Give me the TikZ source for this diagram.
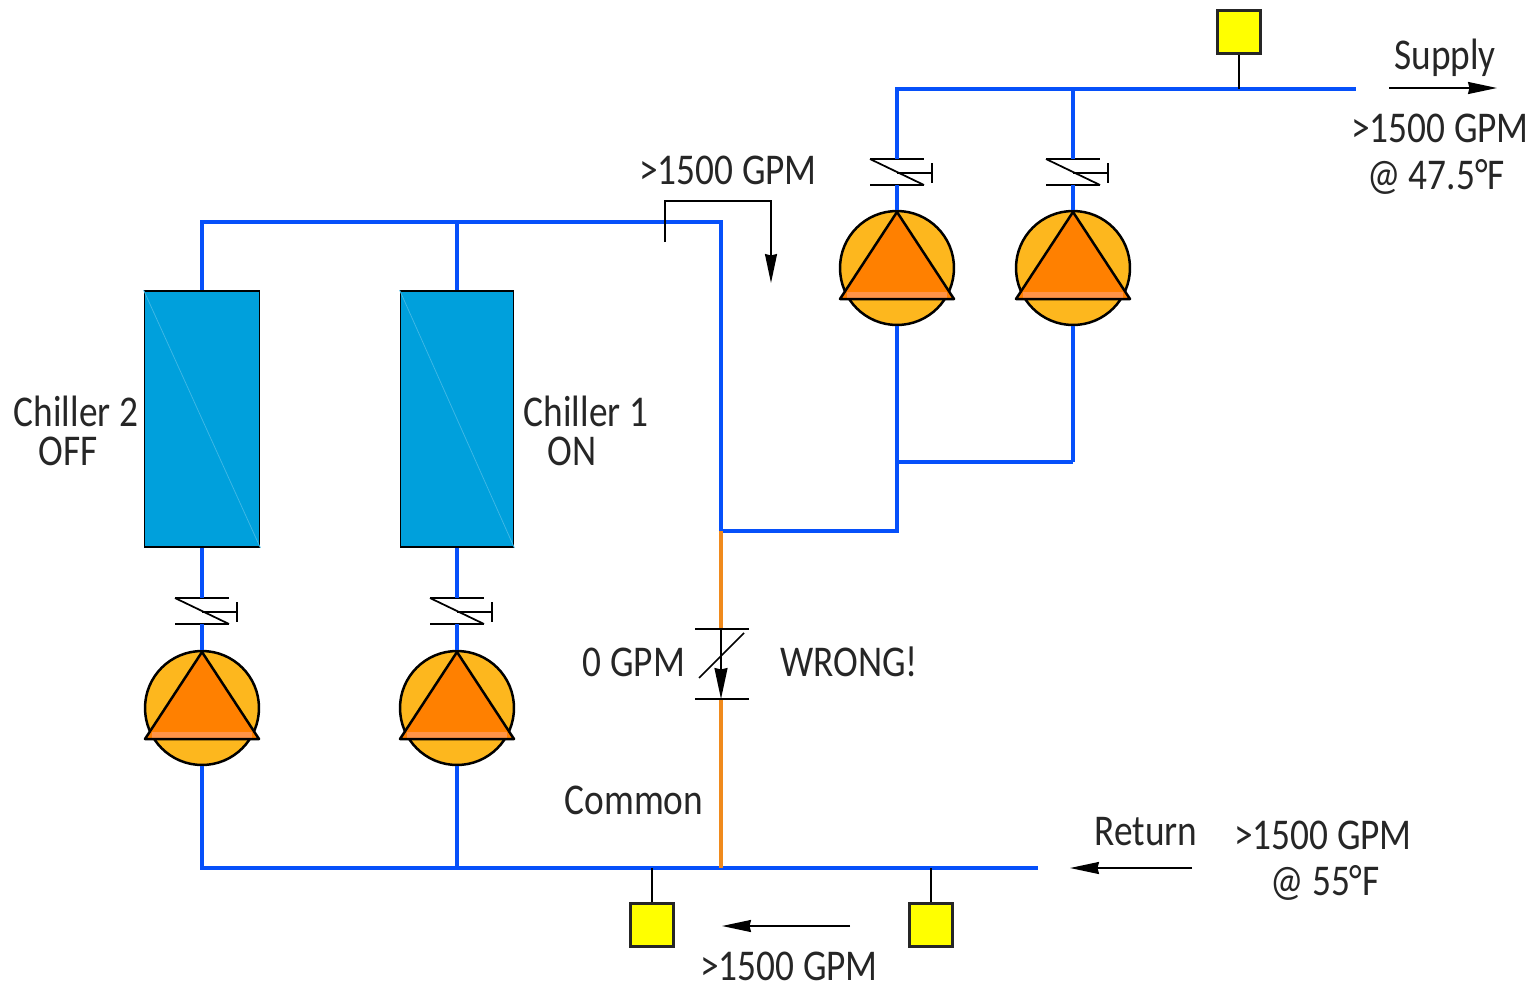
\documentclass[tikz,border=0pt]{standalone}
\usepackage{fontspec}
\setmainfont[FakeStretch=0.85]{Carlito}
\usetikzlibrary{arrows.meta}
\definecolor{pipeblue}{HTML}{0650FA}
\definecolor{commonorange}{HTML}{F08A1C}
\definecolor{chillerblue}{HTML}{00A0DC}
\definecolor{pumpyellow}{HTML}{FDB71E}
\definecolor{pumporange}{HTML}{FF8000}
\definecolor{bandorange}{HTML}{FF9448}
\definecolor{sensoryellow}{HTML}{FFFF00}

% pump: name, x, y of centre
\def\pumpsym#1#2#3{
    \node[pump] (#1) at (#2,#3) {};
    \fill[pumporange] (#2,#3-56) -- (#2+57,#3+31) -- (#2-57,#3+31) -- cycle;
    \fill[bandorange] (#2-50,#3+24) rectangle (#2+50,#3+30);
    \draw[pumpline] (#2,#3-56) -- (#2+57,#3+31) -- (#2-57,#3+31) -- cycle;
}
% check valve: name, x, y of centre
\def\checkvalve#1#2#3{
    \coordinate (#1-t) at (#2,#3-13);
    \coordinate (#1-b) at (#2,#3+13);
    \draw[symline] (#2-27,#3-13) -- (#2+27,#3-13);
    \draw[symline] (#2-27,#3+13) -- (#2+27,#3+13);
    \draw[symline] (#2-27,#3-13) -- (#2+27,#3+13);
    \draw[symline] (#2,#3+1) -- (#2+35,#3+1);
    \draw[symline] (#2+35,#3-9) -- (#2+35,#3+11);
}

\begin{document}
\begin{tikzpicture}[x=0.02cm,y=-0.02cm]
    \tikzstyle{pipe}=[draw=pipeblue,line width=0.08cm]
    \tikzstyle{common}=[draw=commonorange,line width=0.08cm]
    \tikzstyle{symline}=[draw=black,line width=0.035cm]
    \tikzstyle{pumpline}=[draw=black,line width=0.05cm,line join=round]
    \tikzstyle{flow}=[symline,-{Stealth[length=0.58cm,width=0.24cm,inset=0.03cm]}]
    \tikzstyle{pump}=[circle,draw=black,line width=0.05cm,fill=pumpyellow,minimum size=2.28cm,inner sep=0pt]
    \tikzstyle{chiller}=[rectangle,draw=black,line width=0.035cm,fill=chillerblue,minimum height=5.12cm,inner sep=0pt]
    \tikzstyle{sensor}=[rectangle,draw=black!85,line width=0.05cm,fill=sensoryellow,minimum size=0.86cm,inner sep=0pt,
        path picture={\draw[white!88!black!0!sensoryellow,line width=0.01cm] (path picture bounding box.north west) -- (path picture bounding box.south east)
        (path picture bounding box.north east) -- (path picture bounding box.south west);}]
    \tikzstyle{annot}=[text=black!85,font=\fontsize{25}{25}\selectfont,inner sep=0pt]

    \useasboundingbox (0,0) rectangle (1536,987);

    % Draw the chillers
    \node[chiller,minimum width=2.3cm] (C-2) at (202,419) {};
    \node[chiller,minimum width=2.26cm] (C-1) at (457,419) {};
    \draw[white!25!chillerblue,line width=0.015cm] (C-2.north west) -- (C-2.south east);
    \draw[white!25!chillerblue,line width=0.015cm] (C-1.north west) -- (C-1.south east);

    % Draw the pipe junctions
    \coordinate (J-sup) at (1073,89);
    \coordinate (J-sen) at (1239,89);
    \coordinate (E-sup) at (1356,89);
    \coordinate (N-1) at (897,89);
    \coordinate (J-top) at (457,222);
    \coordinate (N-2) at (202,222);
    \coordinate (N-3) at (721,222);
    \coordinate (J-com) at (721,531);
    \coordinate (N-4) at (897,531);
    \coordinate (J-suc) at (897,462);
    \coordinate (N-5) at (1073,462);
    \coordinate (N-6) at (202,868);
    \coordinate (J-ret) at (457,868);
    \coordinate (J-bot) at (721,868);
    \coordinate (E-ret) at (1038,868);
    \coordinate (J-s1) at (652,868);
    \coordinate (J-s2) at (931,868);

    % Draw the check valves
    \checkvalve{V-2}{202}{611}
    \checkvalve{V-1}{457}{611}
    \checkvalve{V-3}{897}{172}
    \checkvalve{V-4}{1073}{172}

    % Pipes
    \draw[pipe] (C-2.south) -- (V-2-t);
    \draw[pipe] (C-1.south) -- (V-1-t);
    \draw[pipe] (V-3-t) -- (N-1) -- (E-sup);
    \draw[pipe] (V-4-t) -- (J-sup);
    \draw[pipe] (C-2.north) -- (N-2) -- (N-3) -- (J-com) -- (N-4) -- (J-suc);
    \draw[pipe] (C-1.north) -- (J-top);
    \draw[pipe] (J-suc) -- (N-5);

    % Draw the pumps
    \pumpsym{P-2}{202}{708}
    \pumpsym{P-1}{457}{708}
    \pumpsym{P-3}{897}{268}
    \pumpsym{P-4}{1073}{268}

    % Pipes at the pumps
    \draw[pipe] (V-2-b) -- (P-2.north);
    \draw[pipe] (V-1-b) -- (P-1.north);
    \draw[pipe] (V-3-b) -- (P-3.north);
    \draw[pipe] (V-4-b) -- (P-4.north);
    \draw[pipe] (P-3.south) -- (J-suc);
    \draw[pipe] (P-4.south) -- (N-5);
    \draw[pipe] (P-2.south) -- (N-6) -- (E-ret);
    \draw[pipe] (P-1.south) -- (J-ret);

    % Common leg with its valve
    \coordinate (V-5-t) at (721,629);
    \coordinate (V-5-b) at (721,699);
    \draw[common] (J-com) -- (V-5-t);
    \draw[common] (V-5-b) -- (J-bot);
    \coordinate (V-5-l) at (695,629);
    \coordinate (V-5-r) at (749,629);
    \coordinate (V-5-m) at (695,699);
    \coordinate (V-5-n) at (749,699);
    \coordinate (V-5-d) at (699,678);
    \coordinate (V-5-e) at (744,633);
    \draw[symline] (V-5-l) -- (V-5-r);
    \draw[symline] (V-5-m) -- (V-5-n);
    \draw[symline] (V-5-d) -- (V-5-e);
    \draw[symline,-{Stealth[length=0.62cm,width=0.26cm,inset=0.03cm]}] (V-5-t) -- (V-5-b);

    % Draw the sensors
    \node[sensor] (S-1) at (1239,32) {};
    \node[sensor] (S-2) at (652,925) {};
    \node[sensor] (S-3) at (931,925) {};
    \draw[symline] (S-1) -- (J-sen);
    \draw[symline] (S-2) -- (J-s1);
    \draw[symline] (S-3) -- (J-s2);

    % Flow arrows
    \coordinate (A-1) at (1389,88);
    \coordinate (A-2) at (1497,88);
    \coordinate (A-3) at (1192,868);
    \coordinate (A-4) at (1070,868);
    \coordinate (A-5) at (850,926);
    \coordinate (A-6) at (722,926);
    \coordinate (A-7) at (665,242);
    \coordinate (A-8) at (665,201);
    \coordinate (A-9) at (771,201);
    \coordinate (A-10) at (771,283);
    \draw[flow] (A-1) -- (A-2);
    \draw[flow] (A-3) -- (A-4);
    \draw[flow] (A-5) -- (A-6);
    \draw[flow] (A-7) -- (A-8) -- (A-9) -- (A-10);

    % Annotate
    \node[annot] (t-sup) at (1445,58) {Supply};
    \node[annot] (t-sgpm) at (1440,128) {>1500 GPM};
    \node[annot] (t-stemp) at (1436,177) {@ 47.5°F};
    \node[annot] (t-mgpm) at (728,170) {>1500 GPM};
    \node[annot] (t-c2) at (76,411) {Chiller 2};
    \node[annot] (t-off) at (68,451) {OFF};
    \node[annot] (t-c1) at (586,411) {Chiller 1};
    \node[annot] (t-on) at (572,451) {ON};
    \node[annot] (t-zero) at (634,662) {0 GPM};
    \node[annot] (t-wrong) at (849,662) {WRONG!};
    \node[annot] (t-com) at (634,800) {Common};
    \node[annot] (t-ret) at (1146,832) {Return};
    \node[annot] (t-rgpm) at (1323,835) {>1500 GPM};
    \node[annot] (t-rtemp) at (1325,883) {@ 55°F};
    \node[annot] (t-bgpm) at (789,966) {>1500 GPM};
\end{tikzpicture}
\end{document}
